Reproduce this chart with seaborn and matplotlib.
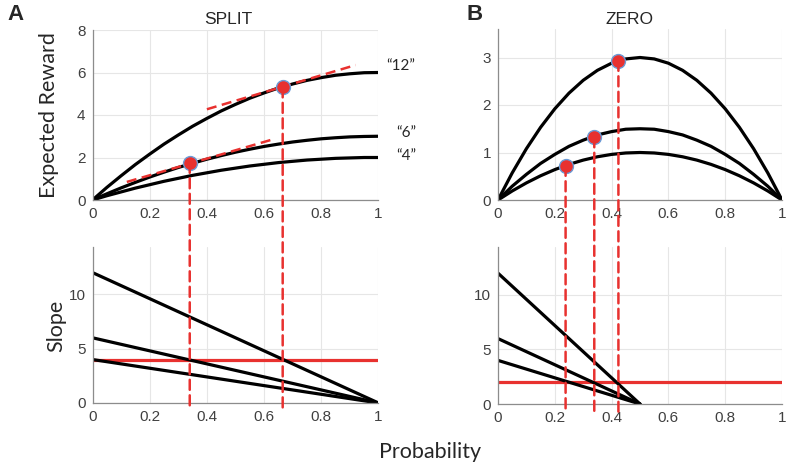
import matplotlib
matplotlib.use("Agg")
import matplotlib.pyplot as plt
from matplotlib.patches import ConnectionPatch
import seaborn as sns

# probability grid
prob = [0.0, 0.05, 0.1, 0.15, 0.2, 0.25, 0.3, 0.35, 0.4, 0.45, 0.5,
        0.55, 0.6, 0.65, 0.7, 0.75, 0.8, 0.85, 0.9, 0.95, 1.0]

# SPLIT expected reward curves
split_12 = [0.0, 0.59, 1.14, 1.67, 2.16, 2.63, 3.06, 3.47, 3.84, 4.19, 4.5,
            4.79, 5.04, 5.27, 5.46, 5.63, 5.76, 5.87, 5.94, 5.99, 6.0]
split_6 = [0.0, 0.29, 0.57, 0.83, 1.08, 1.31, 1.53, 1.73, 1.92, 2.09, 2.25,
           2.39, 2.52, 2.63, 2.73, 2.81, 2.88, 2.93, 2.97, 2.99, 3.0]
split_4 = [0.0, 0.2, 0.38, 0.56, 0.72, 0.88, 1.02, 1.16, 1.28, 1.4, 1.5,
           1.6, 1.68, 1.76, 1.82, 1.88, 1.92, 1.96, 1.98, 2.0, 2.0]

# ZERO expected reward curves
zero_12 = [0.0, 0.57, 1.08, 1.53, 1.92, 2.25, 2.52, 2.73, 2.88, 2.97, 3.0,
           2.97, 2.88, 2.73, 2.52, 2.25, 1.92, 1.53, 1.08, 0.57, 0.0]
zero_6 = [0.0, 0.29, 0.54, 0.77, 0.96, 1.13, 1.26, 1.37, 1.44, 1.49, 1.5,
          1.49, 1.44, 1.37, 1.26, 1.13, 0.96, 0.77, 0.54, 0.29, 0.0]
zero_4 = [0.0, 0.19, 0.36, 0.51, 0.64, 0.75, 0.84, 0.91, 0.96, 0.99, 1.0,
          0.99, 0.96, 0.91, 0.84, 0.75, 0.64, 0.51, 0.36, 0.19, 0.0]

# slope lines (end points)
split_slope_x = [0.0, 1.0]
split_slopes = {"12": [12, 0], "6": [6, 0], "4": [4, 0]}
zero_slope_x = [0.0, 0.5]
zero_slopes = {"12": [12, 0], "6": [6, 0], "4": [4, 0]}

split_cost = 4
zero_cost = 2

# optimal points
split_pts_x = [0.34, 0.665]
split_pts_y = [1.75, 5.3]
zero_pts_x = [0.238, 0.339, 0.424]
zero_pts_y = [0.72, 1.32, 2.93]

# tangent lines in SPLIT
tan12_x = [0.40, 0.92]
tan12_y = [4.27, 6.35]
tan6_x = [0.12, 0.63]
tan6_y = [0.85, 2.85]

curve_labels = ["\u201c12\u201d", "\u201c6\u201d", "\u201c4\u201d"]
xticks = [0, 0.2, 0.4, 0.6, 0.8, 1]
xticklabels = ["0", "0.2", "0.4", "0.6", "0.8", "1"]

sns.set_style("white")
plt.rcParams["font.family"] = ["Liberation Sans", "DejaVu Sans"]

RED = "#e8312f"
W, H = 786, 468
fig = plt.figure(figsize=(W / 100, H / 100), dpi=100)

def px_box(x0, x1, ytop, ybot):
    return [x0 / W, 1 - ybot / H, (x1 - x0) / W, (ybot - ytop) / H]

ax_a1 = fig.add_axes(px_box(92.5, 378.5, 30, 200))
ax_b1 = fig.add_axes(px_box(498, 782, 29, 200))
ax_a2 = fig.add_axes(px_box(92.5, 378.5, 246.5, 403))
ax_b2 = fig.add_axes(px_box(498, 782, 247, 404))

def style(ax, ylim, yticks):
    ax.set_xlim(0, 1)
    ax.set_ylim(0, ylim)
    ax.set_xticks(xticks)
    ax.set_xticklabels(xticklabels)
    ax.set_yticks(yticks)
    ax.grid(True, color="#e6e6e6", lw=0.8)
    ax.set_axisbelow(True)
    for s in ["top", "right"]:
        ax.spines[s].set_visible(False)
    for s in ["left", "bottom"]:
        ax.spines[s].set_color("#8c8c8c")
        ax.spines[s].set_linewidth(0.9)
    ax.tick_params(direction="in", length=3, width=0.8, color="#8c8c8c",
                   labelsize=11, labelcolor="#404040", pad=5)

style(ax_a1, 8, [0, 2, 4, 6, 8])
style(ax_b1, 3.6, [0, 1, 2, 3])
style(ax_a2, 14.4, [0, 5, 10])
style(ax_b2, 14.4, [0, 5, 10])

LW = 2.3
for ys in [split_12, split_6, split_4]:
    sns.lineplot(x=prob, y=ys, ax=ax_a1, color="black", lw=LW)
for ys in [zero_12, zero_6, zero_4]:
    sns.lineplot(x=prob, y=ys, ax=ax_b1, color="black", lw=LW)
for ys in split_slopes.values():
    sns.lineplot(x=split_slope_x, y=ys, ax=ax_a2, color="black", lw=LW)
for ys in zero_slopes.values():
    sns.lineplot(x=zero_slope_x, y=ys, ax=ax_b2, color="black", lw=LW)

ax_a2.axhline(split_cost, color=RED, lw=2.3, zorder=1.5)
ax_b2.axhline(zero_cost, color=RED, lw=2.3, zorder=1.5)

dash = dict(color=RED, lw=1.8, ls=(0, (4, 2.2)))
ax_a1.plot(tan12_x, tan12_y, **dash)
ax_a1.plot(tan6_x, tan6_y, **dash)

def drop_lines(ax_top, ax_bot, xs, ys, yend):
    for x, y in zip(xs, ys):
        con = ConnectionPatch(xyA=(x, y), coordsA=ax_top.transData,
                              xyB=(x, yend), coordsB=ax_bot.transData,
                              zorder=4, **dash)
        fig.add_artist(con)

drop_lines(ax_a1, ax_a2, split_pts_x, split_pts_y, -0.5)
drop_lines(ax_b1, ax_b2, zero_pts_x, zero_pts_y, -0.7)

dot = dict(marker="o", ms=10, mfc=RED, mec="#6b9bd6", mew=1, ls="none",
           zorder=6, clip_on=False)
ax_a1.plot(split_pts_x, split_pts_y, **dot)
ax_b1.plot(zero_pts_x, zero_pts_y, **dot)

lab_font = ["Lato", "DejaVu Sans"]
for txt, xp, yp in zip(curve_labels, [401, 406, 406], [66, 133, 156]):
    fig.text(xp / W, 1 - yp / H, txt, ha="center", va="center",
             fontsize=11, family=lab_font)

ax_a1.set_ylabel("Expected Reward", fontsize=15.5, family=lab_font)
ax_a1.yaxis.set_label_coords(-0.117, 0.5)
ax_a2.set_ylabel("Slope", fontsize=15.5, family=lab_font)
ax_a2.yaxis.set_label_coords(-0.093, 0.49)
fig.text(430 / W, 1 - 452 / H, "Probability", ha="center", va="center",
         fontsize=15.5, family=lab_font)

fig.text(228 / W, 1 - 20 / H, "SPLIT", ha="center", va="center", fontsize=12.5)
fig.text(629 / W, 1 - 20 / H, "ZERO", ha="center", va="center", fontsize=12.5)
fig.text(15 / W, 1 - 15 / H, "A", ha="center", va="center", fontsize=16,
         fontweight="bold")
fig.text(475 / W, 1 - 15 / H, "B", ha="center", va="center", fontsize=16,
         fontweight="bold")

fig.savefig("out.png", dpi=100)
